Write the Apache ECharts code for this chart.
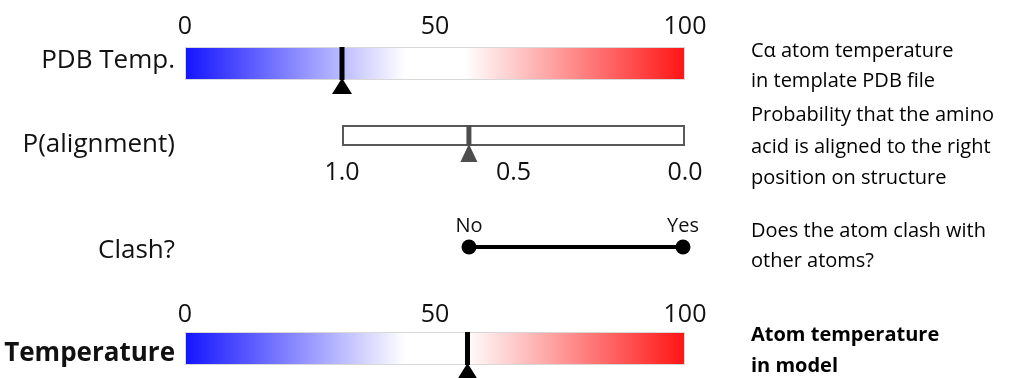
<!DOCTYPE html>
<html><head><meta charset="utf-8">
<script src="https://cdn.jsdelivr.net/npm/echarts@6/dist/echarts.min.js"></script>
<style>html,body{margin:0;padding:0;background:#fff}#c{width:1013px;height:378px}</style>
</head><body><div id="c"></div>
<script>
// ---- data ----
const rowLabels = ['PDB Temp.', 'P(alignment)', 'Clash?', 'Temperature'];
const tempTicks = [0, 50, 100];
const alignTicks = [1.0, 0.5, 0.0];
const clashCategories = ['No', 'Yes'];
const pdbTempValue = 31.4;
const alignValue = 0.63;
const modelTempValue = 56.5;
const descriptions = [
  'C\u03b1 atom temperature\nin template PDB file',
  'Probability that the amino\nacid is aligned to the right\nposition on structure',
  'Does the atom clash with\nother atoms?',
  'Atom temperature\nin model'
];

const FONT = '"Open Sans", "Noto Sans", sans-serif';
const gradient = new echarts.graphic.LinearGradient(0, 0, 1, 0, [
  {offset: 0, color: 'rgb(20,20,255)'},
  {offset: 0.44, color: '#ffffff'},
  {offset: 0.56, color: '#ffffff'},
  {offset: 1, color: 'rgb(255,20,20)'}
]);

function markerRender(opts) {
  return function (params, api) {
    const c = api.coord([api.value(0), 0]);
    const h = api.size([0, 1])[1];
    const top = c[1] - h / 2, bot = c[1] + h / 2;
    return {
      type: 'group',
      children: [
        {type: 'line', shape: {x1: c[0], y1: top, x2: c[0], y2: bot},
         style: {stroke: opts.color, lineWidth: opts.lw}},
        {type: 'polygon', shape: {points: [[c[0], bot - 2], [c[0] - opts.tw / 2, bot + opts.th], [c[0] + opts.tw / 2, bot + opts.th]]},
         style: {fill: opts.color}}
      ]
    };
  };
}

const chart = echarts.init(document.getElementById('c'), null, {renderer: 'canvas'});
const tickLabel = {fontFamily: FONT, fontSize: 25, color: '#111'};
const noLine = {axisLine: {show: false}, axisTick: {show: false}, splitLine: {show: false}};
const hiddenY = {axisLabel: {show: false}, axisLine: {show: false}, axisTick: {show: false}, splitLine: {show: false}};

// row label vertical centres and description block tops (layout only)
const rowLabelY = [61, 145, 251, 354];
const rowLabelBold = [false, false, false, true];
const descTop = [36, 100, 216, 320];
const descLH = [30, 31.5, 30, 31];
const descBold = [false, false, false, true];

chart.setOption({
  animation: false,
  grid: [
    {left: 185, width: 500, top: 47, height: 33},
    {left: 342, width: 343, top: 125, height: 21},
    {left: 469, width: 214, top: 237, height: 20},
    {left: 185, width: 500, top: 332, height: 33}
  ],
  xAxis: [
    Object.assign({gridIndex: 0, type: 'value', min: tempTicks[0], max: tempTicks[2], interval: 50, position: 'top',
      axisLabel: Object.assign({margin: 8}, tickLabel)}, noLine),
    Object.assign({gridIndex: 1, type: 'value', min: 0, max: 1, interval: 0.5, inverse: true, position: 'bottom',
      axisLabel: Object.assign({margin: 14, formatter: v => v.toFixed(1)}, tickLabel)}, noLine),
    Object.assign({gridIndex: 2, type: 'category', data: clashCategories, boundaryGap: false, position: 'top',
      axisLabel: {margin: 1, fontFamily: FONT, fontSize: 20, color: '#111'}}, noLine),
    Object.assign({gridIndex: 3, type: 'value', min: tempTicks[0], max: tempTicks[2], interval: 50, position: 'top',
      axisLabel: Object.assign({margin: 5}, tickLabel)}, noLine)
  ],
  yAxis: rowLabels.map((r, i) => Object.assign({gridIndex: i, type: 'category', data: [r]}, hiddenY)),
  series: [
    {type: 'bar', xAxisIndex: 0, yAxisIndex: 0, barWidth: '100%', data: [tempTicks[2]],
     itemStyle: {color: gradient, borderColor: '#d8d8d8', borderWidth: 1}, silent: true},
    {type: 'custom', xAxisIndex: 0, yAxisIndex: 0, data: [[pdbTempValue, 0]],
     renderItem: markerRender({color: '#000', lw: 5, tw: 20, th: 14}), z: 5},

    {type: 'bar', xAxisIndex: 1, yAxisIndex: 1, barWidth: '100%', data: [alignTicks[0]],
     itemStyle: {color: '#fff', borderColor: '#595959', borderWidth: 2}, silent: true},
    {type: 'custom', xAxisIndex: 1, yAxisIndex: 1, data: [[alignValue, 0]],
     renderItem: markerRender({color: '#4d4d4d', lw: 5, tw: 17, th: 16}), z: 5},

    {type: 'line', xAxisIndex: 2, yAxisIndex: 2, data: [[clashCategories[0], rowLabels[2]], [clashCategories[1], rowLabels[2]]],
     symbol: 'circle', symbolSize: 15, lineStyle: {color: '#000', width: 4}, itemStyle: {color: '#000'}},

    {type: 'bar', xAxisIndex: 3, yAxisIndex: 3, barWidth: '100%', data: [tempTicks[2]],
     itemStyle: {color: gradient, borderColor: '#d8d8d8', borderWidth: 1}, silent: true},
    {type: 'custom', xAxisIndex: 3, yAxisIndex: 3, data: [[modelTempValue, 0]],
     renderItem: markerRender({color: '#000', lw: 5, tw: 20, th: 14}), z: 5}
  ],
  graphic: rowLabels.map((t, i) => ({
    type: 'text', x: 175, y: rowLabelY[i],
    style: {text: t, font: (rowLabelBold[i] ? 'bold ' : '') + '26px ' + FONT, fill: '#111',
            textAlign: 'right', textVerticalAlign: 'middle'}
  })).concat(descriptions.map((t, i) => ({
    type: 'text', left: 751, top: descTop[i],
    style: {text: t, font: (descBold[i] ? 'bold ' : '') + '20px ' + FONT, lineHeight: descLH[i], fill: '#000'}
  })))
});
</script></body></html>
